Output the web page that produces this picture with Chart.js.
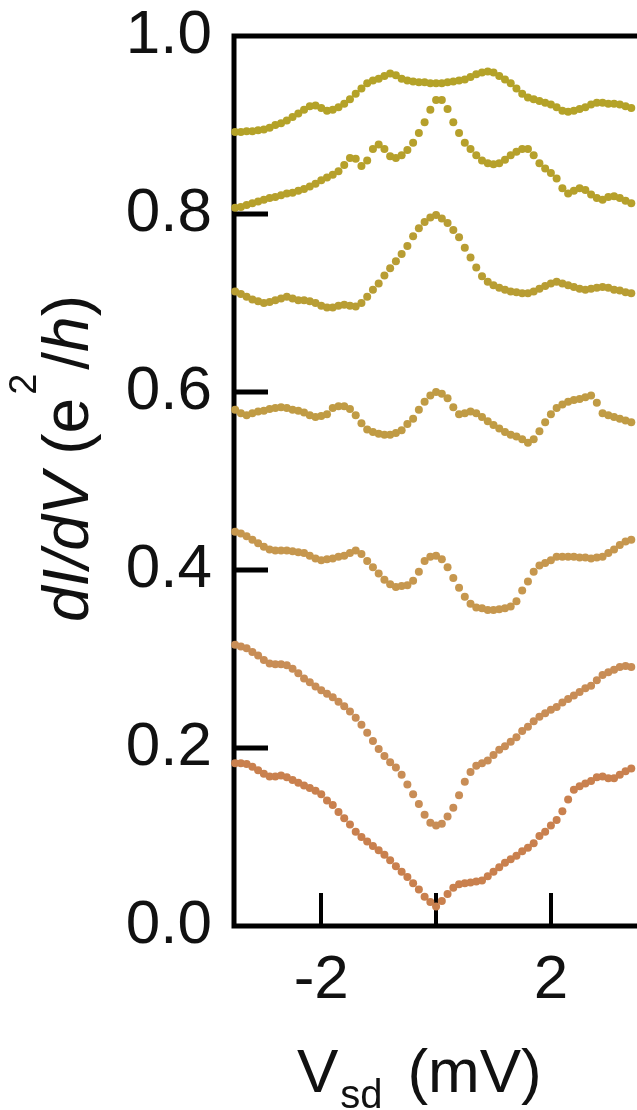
<!DOCTYPE html>
<html>
<head>
<meta charset="utf-8">
<script src="https://cdn.jsdelivr.net/npm/chart.js@4"></script>
<style>
  body { margin: 0; background: #fff; }
  #wrap { position: relative; width: 637px; height: 1110px; overflow: hidden; }
  #chart { position: absolute; left: 0; top: 0; }
  .axis-title {
    position: absolute;
    font-family: 'Liberation Sans', Arial, sans-serif;
    color: #111;
    line-height: 1;
    white-space: nowrap;
  }
  #ytitle { left: 34px; top: 622px; font-size: 64px; transform-origin: 0 0; transform: rotate(-90deg); }
  #ytitle sup { font-size: 38px; vertical-align: baseline; position: relative; top: -52px; margin: 0 4px 0 3px; }
  #xtitle { left: 297px; top: 1040px; font-size: 62px; }
  #xtitle sub { font-size: 40px; vertical-align: baseline; position: relative; top: 16px; margin-left: 2px; }
  #xtitle .unit { margin-left: 0.4em; }
</style>
</head>
<body>
<div id="wrap">
  <canvas id="chart" width="637" height="1110"></canvas>
  <div class="axis-title" id="ytitle"><i>dI/dV</i> (e<sup>2</sup>/<i>h</i>)</div>
  <div class="axis-title" id="xtitle">V<sub>sd</sub><span class="unit">(mV)</span></div>
</div>
<script>
// bias sweep, mV
const vsd = [
  -3.5, -3.4, -3.3, -3.2, -3.1, -3.0, -2.9, -2.8, -2.7, -2.6,
  -2.5, -2.4, -2.3, -2.2, -2.1, -2.0, -1.9, -1.8, -1.7, -1.6,
  -1.5, -1.4, -1.3, -1.2, -1.1, -1.0, -0.9, -0.8, -0.7, -0.6,
  -0.5, -0.4, -0.3, -0.2, -0.1, 0.0, 0.1, 0.2, 0.3, 0.4,
  0.5, 0.6, 0.7, 0.8, 0.9, 1.0, 1.1, 1.2, 1.3, 1.4,
  1.5, 1.6, 1.7, 1.8, 1.9, 2.0, 2.1, 2.2, 2.3, 2.4,
  2.5, 2.6, 2.7, 2.8, 2.9, 3.0, 3.1, 3.2, 3.3, 3.4
]

// dI/dV traces in e^2/h, top to bottom
const g1 = [
  0.892, 0.892, 0.893, 0.893, 0.894, 0.895, 0.897, 0.900, 0.902, 0.905,
  0.909, 0.913, 0.917, 0.921, 0.922, 0.919, 0.916, 0.917, 0.920, 0.924,
  0.929, 0.935, 0.941, 0.947, 0.950, 0.952, 0.955, 0.958, 0.956, 0.952,
  0.950, 0.949, 0.948, 0.948, 0.947, 0.947, 0.947, 0.948, 0.949, 0.950,
  0.951, 0.954, 0.957, 0.959, 0.960, 0.959, 0.955, 0.951, 0.947, 0.941,
  0.935, 0.931, 0.929, 0.927, 0.925, 0.923, 0.920, 0.916, 0.915, 0.916,
  0.918, 0.920, 0.923, 0.925, 0.925, 0.924, 0.924, 0.923, 0.921, 0.919
]
const g2 = [
  0.807, 0.808, 0.810, 0.812, 0.814, 0.816, 0.818, 0.819, 0.821, 0.823,
  0.824, 0.826, 0.828, 0.831, 0.834, 0.838, 0.841, 0.844, 0.848, 0.855,
  0.863, 0.862, 0.854, 0.860, 0.873, 0.878, 0.873, 0.865, 0.863, 0.866,
  0.872, 0.880, 0.891, 0.903, 0.917, 0.928, 0.928, 0.918, 0.903, 0.891,
  0.880, 0.873, 0.866, 0.860, 0.857, 0.856, 0.857, 0.861, 0.866, 0.870,
  0.873, 0.873, 0.866, 0.857, 0.851, 0.846, 0.840, 0.829, 0.823, 0.826,
  0.829, 0.827, 0.822, 0.818, 0.816, 0.819, 0.820, 0.818, 0.815, 0.812
]
const g3 = [
  0.713, 0.710, 0.707, 0.704, 0.702, 0.700, 0.701, 0.703, 0.705, 0.707,
  0.705, 0.703, 0.703, 0.702, 0.700, 0.697, 0.695, 0.695, 0.697, 0.698,
  0.697, 0.696, 0.700, 0.707, 0.715, 0.722, 0.731, 0.739, 0.747, 0.755,
  0.764, 0.775, 0.784, 0.791, 0.796, 0.799, 0.795, 0.790, 0.782, 0.774,
  0.762, 0.751, 0.740, 0.730, 0.724, 0.720, 0.717, 0.715, 0.713, 0.712,
  0.711, 0.711, 0.713, 0.716, 0.719, 0.722, 0.724, 0.722, 0.720, 0.718,
  0.716, 0.715, 0.716, 0.717, 0.718, 0.717, 0.715, 0.714, 0.712, 0.711
]
const g4 = [
  0.580, 0.576, 0.574, 0.576, 0.578, 0.579, 0.581, 0.582, 0.583, 0.582,
  0.580, 0.579, 0.577, 0.574, 0.572, 0.573, 0.575, 0.582, 0.584, 0.584,
  0.581, 0.574, 0.565, 0.558, 0.555, 0.553, 0.552, 0.552, 0.554, 0.557,
  0.564, 0.570, 0.580, 0.589, 0.596, 0.600, 0.598, 0.593, 0.583, 0.575,
  0.576, 0.578, 0.576, 0.572, 0.567, 0.563, 0.559, 0.555, 0.552, 0.550,
  0.547, 0.543, 0.547, 0.556, 0.566, 0.575, 0.582, 0.586, 0.589, 0.591,
  0.592, 0.594, 0.596, 0.588, 0.576, 0.574, 0.572, 0.570, 0.568, 0.566
]
const g5 = [
  0.443, 0.441, 0.438, 0.434, 0.430, 0.426, 0.423, 0.422, 0.422, 0.422,
  0.421, 0.420, 0.419, 0.416, 0.413, 0.411, 0.412, 0.413, 0.415, 0.416,
  0.419, 0.422, 0.418, 0.410, 0.403, 0.396, 0.389, 0.384, 0.381, 0.382,
  0.383, 0.388, 0.398, 0.410, 0.415, 0.416, 0.412, 0.403, 0.391, 0.380,
  0.370, 0.362, 0.358, 0.357, 0.355, 0.355, 0.356, 0.357, 0.359, 0.365,
  0.377, 0.387, 0.398, 0.405, 0.408, 0.411, 0.415, 0.415, 0.415, 0.415,
  0.414, 0.414, 0.413, 0.414, 0.415, 0.419, 0.423, 0.428, 0.432, 0.434
]
const g6 = [
  0.316, 0.314, 0.312, 0.308, 0.304, 0.299, 0.295, 0.294, 0.294, 0.293,
  0.289, 0.284, 0.278, 0.274, 0.269, 0.265, 0.261, 0.257, 0.252, 0.247,
  0.241, 0.234, 0.226, 0.217, 0.208, 0.199, 0.191, 0.184, 0.178, 0.170,
  0.159, 0.148, 0.137, 0.125, 0.116, 0.113, 0.115, 0.123, 0.133, 0.147,
  0.162, 0.173, 0.180, 0.183, 0.186, 0.192, 0.198, 0.202, 0.207, 0.212,
  0.219, 0.224, 0.230, 0.235, 0.239, 0.243, 0.246, 0.251, 0.255, 0.259,
  0.263, 0.267, 0.270, 0.276, 0.282, 0.285, 0.288, 0.291, 0.292, 0.291
]
const g7 = [
  0.183, 0.183, 0.182, 0.179, 0.175, 0.171, 0.168, 0.168, 0.169, 0.167,
  0.164, 0.161, 0.158, 0.155, 0.152, 0.148, 0.141, 0.136, 0.128, 0.121,
  0.114, 0.106, 0.100, 0.095, 0.090, 0.085, 0.080, 0.074, 0.067, 0.061,
  0.055, 0.048, 0.041, 0.033, 0.027, 0.022, 0.028, 0.036, 0.043, 0.047,
  0.048, 0.049, 0.050, 0.051, 0.056, 0.061, 0.066, 0.071, 0.075, 0.079,
  0.084, 0.088, 0.093, 0.101, 0.106, 0.113, 0.119, 0.129, 0.142, 0.153,
  0.157, 0.160, 0.163, 0.167, 0.168, 0.166, 0.166, 0.170, 0.174, 0.177
]

const xTickValues = [-2, 0, 2]
const xTickLabels = ['-2', '', '2']

const traces = [g1, g2, g3, g4, g5, g6, g7]
const traceColors = ['#b4a228', '#b6a02b', '#b89d33', '#c09b44', '#c6974e', '#c88d56', '#c9804e']

const FONT = "'Liberation Sans', Arial, sans-serif"

// closed frame on left/top/bottom plus inward ticks, like an Igor plot
const frameTicks = {
    id: 'frameTicks',
    beforeDatasetsDraw(chart) {
        const { ctx, chartArea: a, scales: { x, y } } = chart
        ctx.save()
        ctx.strokeStyle = '#000'
        ctx.lineWidth = 5
        ctx.lineJoin = 'miter'
        ctx.beginPath()
        ctx.moveTo(a.right + 5, a.top)
        ctx.lineTo(a.left, a.top)
        ctx.lineTo(a.left, a.bottom)
        ctx.lineTo(a.right + 5, a.bottom)
        ctx.stroke()

        ctx.lineWidth = 5
        y.ticks.forEach(t => {
            if (t.value <= 0.01 || t.value >= 0.99) return
            const py = Math.round(y.getPixelForValue(t.value))
            ctx.beginPath()
            ctx.moveTo(a.left, py)
            ctx.lineTo(a.left + 34, py)
            ctx.stroke()
        })
        ctx.lineWidth = 4
        x.ticks.forEach(t => {
            const px = Math.round(x.getPixelForValue(t.value))
            ctx.beginPath()
            ctx.moveTo(px, a.bottom)
            ctx.lineTo(px, a.bottom - 33)
            ctx.stroke()
        })
        ctx.restore()
    }
}

const datasets = traces.map((trace, i) => ({
    data: vsd.map((v, j) => ({ x: v, y: trace[j] })),
    showLine: false,
    pointRadius: 4,
    pointBorderWidth: 0,
    pointBackgroundColor: traceColors[i],
    clip: false
}))

new Chart(document.getElementById('chart'), {
    type: 'line',
    data: { datasets },
    plugins: [frameTicks],
    options: {
        responsive: false,
        animation: false,
        events: [],
        layout: { padding: { top: 36, left: 0, right: 0, bottom: 0 } },
        plugins: { legend: { display: false }, tooltip: { enabled: false } },
        scales: {
            x: {
                type: 'linear',
                min: -3.52,
                max: 3.43,
                grid: { display: false, drawTicks: false },
                border: { display: false },
                afterBuildTicks: scale => { scale.ticks = xTickValues.map(v => ({ value: v })) },
                afterFit: scale => {
                    scale.height = 184
                    scale.paddingLeft = 0
                    scale.paddingRight = 0
                },
                ticks: {
                    color: '#111',
                    font: { family: FONT, size: 62, lineHeight: 1 },
                    padding: 24,
                    maxRotation: 0,
                    autoSkip: false,
                    callback: (v, i) => xTickLabels[i]
                }
            },
            y: {
                min: 0,
                max: 1,
                grid: { display: false, drawTicks: false },
                border: { display: false },
                afterFit: scale => {
                    scale.width = 234
                    // label overhang would otherwise push the plot area down
                    scale.paddingTop = 0
                    scale.paddingBottom = 0
                },
                ticks: {
                    stepSize: 0.2,
                    color: '#111',
                    font: { family: FONT, size: 62, lineHeight: 1 },
                    padding: 22,
                    callback: v => v.toFixed(1)
                }
            }
        }
    }
})
</script>
</body>
</html>
